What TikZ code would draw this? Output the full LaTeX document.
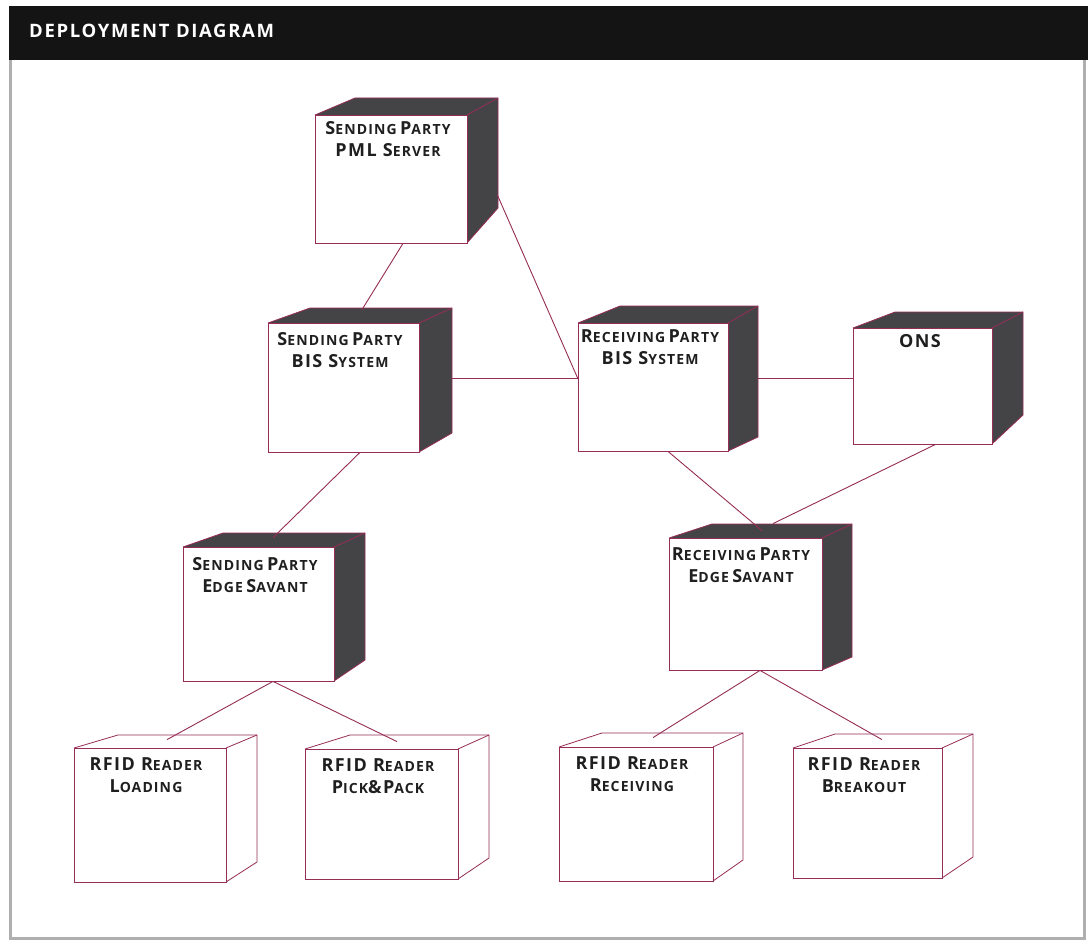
\documentclass[tikz,border=0pt]{standalone}
\usepackage{fontspec}
\setmainfont{Open Sans}
\newfontfamily\labelfont[LetterSpace=8]{Open Sans}
\newfontfamily\titlefont[LetterSpace=9]{Open Sans}
\usetikzlibrary{calc}

\definecolor{wire}{RGB}{150,45,85}
\definecolor{cubeside}{RGB}{68,68,70}
\definecolor{framegray}{RGB}{175,175,175}

% fake small caps: large initial, smaller rest
\newcommand\Bg[1]{{\fontsize{18}{22}\selectfont #1}}
\newcommand\Sm[1]{{\fontsize{14}{17}\selectfont #1}}

% cube: name, front L T R B, back-left x, back top y, back right x, right-face bottom y
\newcommand\depcube[9]{%
  \fill[side] (#2,#3) -- (#6,#7) -- (#8,#7) -- (#8,#9) -- (#4,#5) -- (#4,#3) -- cycle;
  \draw[cubeedge] (#2,#3) -- (#6,#7) -- (#8,#7) -- (#8,#9) -- (#4,#5);
  \draw[cubeedge] (#4,#3) -- (#8,#7);
  \node[frontface, minimum width={(#4-#2)*1pt}, minimum height={(#5-#3)*1pt}]
    (#1) at ({(#2+#4)/2},{(#3+#5)/2}) {};
}

\begin{document}
\begin{tikzpicture}[x=1pt,y=-1pt,
  side/.style={fill=cubeside},
  cubeedge/.style={draw=wire, line width=0.8pt, line join=round},
  frontface/.style={draw=wire, fill=white, line width=0.8pt, inner sep=0pt},
  conn/.style={draw=wire, line width=0.9pt},
  lbl/.style={anchor=base, inner sep=0pt, font=\labelfont\bfseries, text=black!88}]

\useasboundingbox (0,0) rectangle (1088,942);
\fill[white] (0,0) rectangle (1088,942);

% title band and frame
\fill[black!92] (9,6) rectangle (1088,60);
\node[anchor=base west, inner sep=0pt, text=white, font=\titlefont\bfseries\fontsize{18.5}{22}\selectfont] (title) at (29,38) {DEPLOYMENT DIAGRAM};
\draw[framegray, line width=3pt] (10.5,60) -- (10.5,938) -- (1084,938) -- (1084,60);

% shaded nodes
\depcube{pml}{315}{115}{467}{243}{355}{98}{498}{208}
\depcube{sbis}{268}{323}{419}{452}{310}{308}{452}{433}
\depcube{rbis}{578}{323}{728}{451}{620}{306}{758}{437}
\depcube{ons}{853}{328}{992}{444}{895}{312}{1023}{415}
\depcube{sedge}{183}{547}{334}{681}{223}{533}{365}{660}
\depcube{redge}{669}{538}{822}{670}{712}{524}{852}{657}

% reader devices (open sides)
\begin{scope}[side/.style={fill=white}]
\depcube{rl}{74}{748}{226}{882}{118}{735}{257}{862}
\depcube{rp}{305}{749}{458}{879}{350}{735}{489}{858}
\depcube{rr}{559}{747}{713}{881}{602}{733}{743}{860}
\depcube{rb}{793}{748}{942}{878}{835}{734}{973}{857}
\end{scope}

% labels
\node[lbl] (pml-a) at (388,135) {\Bg{S}\Sm{ENDING} \Bg{P}\Sm{ARTY}};
\node[lbl] (pml-b) at (388,157) {\Bg{PML S}\Sm{ERVER}};
\node[lbl] (sbis-a) at (340,345) {\Bg{S}\Sm{ENDING} \Bg{P}\Sm{ARTY}};
\node[lbl] (sbis-b) at (340,367) {\Bg{BIS S}\Sm{YSTEM}};
\node[lbl] (rbis-a) at (650,342) {\Bg{R}\Sm{ECEIVING} \Bg{P}\Sm{ARTY}};
\node[lbl] (rbis-b) at (650,364) {\Bg{BIS S}\Sm{YSTEM}};
\node[lbl] (ons-a) at (920,347) {\Bg{ONS}};
\node[lbl] (sedge-a) at (255,570) {\Bg{S}\Sm{ENDING} \Bg{P}\Sm{ARTY}};
\node[lbl] (sedge-b) at (255,592) {\Bg{E}\Sm{DGE} \Bg{S}\Sm{AVANT}};
\node[lbl] (redge-a) at (741,560) {\Bg{R}\Sm{ECEIVING} \Bg{P}\Sm{ARTY}};
\node[lbl] (redge-b) at (741,582) {\Bg{E}\Sm{DGE} \Bg{S}\Sm{AVANT}};
\node[lbl] (rl-a) at (146,770) {\Bg{RFID R}\Sm{EADER}};
\node[lbl] (rl-b) at (146,792) {\Bg{L}\Sm{OADING}};
\node[lbl] (rp-a) at (378,771) {\Bg{RFID R}\Sm{EADER}};
\node[lbl] (rp-b) at (378,793) {\Bg{P}\Sm{ICK}\Bg{\&P}\Sm{ACK}};
\node[lbl] (rr-a) at (632,769) {\Bg{RFID R}\Sm{EADER}};
\node[lbl] (rr-b) at (632,791) {\Bg{R}\Sm{ECEIVING}};
\node[lbl] (rb-a) at (864,770) {\Bg{RFID R}\Sm{EADER}};
\node[lbl] (rb-b) at (864,792) {\Bg{B}\Sm{REAKOUT}};

% connection points on the cube faces
\coordinate (pml-s) at ([xshift=12pt]pml.south);
\coordinate (pml-e) at ([xshift=30pt,yshift=-16pt]pml.east);
\coordinate (sbis-t) at ([xshift=18.5pt,yshift=13pt]sbis.north);
\coordinate (sbis-e) at ([xshift=33pt,yshift=9.5pt]sbis.east);
\coordinate (sbis-s) at ([xshift=16.5pt]sbis.south);
\coordinate (rbis-w) at ([yshift=9pt]rbis.west);
\coordinate (rbis-e) at ([xshift=30pt,yshift=9pt]rbis.east);
\coordinate (rbis-s) at ([xshift=15pt]rbis.south);
\coordinate (ons-w) at ([yshift=8pt]ons.west);
\coordinate (ons-s) at ([xshift=13pt]ons.south);
\coordinate (sedge-t) at ([xshift=14.5pt,yshift=9pt]sedge.north);
\coordinate (sedge-s) at ([xshift=14.5pt]sedge.south);
\coordinate (redge-t1) at ([xshift=16.5pt,yshift=7pt]redge.north);
\coordinate (redge-t2) at ([xshift=27.5pt,yshift=14pt]redge.north);
\coordinate (redge-s) at ([xshift=14.5pt]redge.south);
\coordinate (rl-t) at ([xshift=17pt,yshift=8pt]rl.north);
\coordinate (rp-t) at ([xshift=15.5pt,yshift=7pt]rp.north);
\coordinate (rr-t) at ([xshift=17pt,yshift=9pt]rr.north);
\coordinate (rb-t) at ([xshift=14.5pt,yshift=8pt]rb.north);

% connectors
\draw[conn] (pml-s) -- (sbis-t);
\draw[conn] (pml-e) -- (rbis-w);
\draw[conn] (sbis-e) -- (rbis-w);
\draw[conn] (rbis-e) -- (ons-w);
\draw[conn] (sbis-s) -- (sedge-t);
\draw[conn] (rbis-s) -- (redge-t1);
\draw[conn] (ons-s) -- (redge-t2);
\draw[conn] (sedge-s) -- (rl-t);
\draw[conn] (sedge-s) -- (rp-t);
\draw[conn] (redge-s) -- (rr-t);
\draw[conn] (redge-s) -- (rb-t);
\end{tikzpicture}
\end{document}
